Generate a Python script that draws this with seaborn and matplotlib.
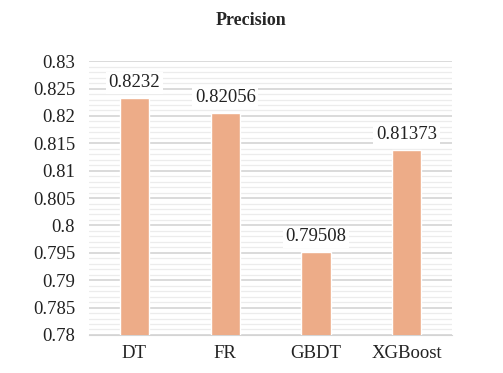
import matplotlib
matplotlib.use("Agg")
import matplotlib.pyplot as plt
import seaborn as sns
import pandas as pd
from matplotlib.ticker import MultipleLocator

models = ["DT", "FR", "GBDT", "XGBoost"]
precision = [0.8232, 0.82056, 0.79508, 0.81373]
value_labels = ["0.8232", "0.82056", "0.79508", "0.81373"]

sns.set_style("white")
plt.rcParams["font.family"] = ["Liberation Serif", "DejaVu Serif"]

df = pd.DataFrame({"model": models, "precision": precision})

fig = plt.figure(figsize=(5.03, 3.73), dpi=100)
ax = fig.add_axes([0.177, 0.102, 0.722, 0.734])

sns.barplot(data=df, x="model", y="precision", color="#EDAC88", saturation=1,
            width=0.32, ax=ax, zorder=3)

ax.set_ylim(0.78, 0.83)
ax.yaxis.set_major_locator(MultipleLocator(0.005))
ax.yaxis.set_minor_locator(MultipleLocator(0.001))
ax.yaxis.set_major_formatter(matplotlib.ticker.FuncFormatter(lambda v, p: f"{v:g}"))
ax.grid(which="major", axis="y", color="#d4d4d4", linewidth=1.2, zorder=0)
ax.grid(which="minor", axis="y", color="#ececec", linewidth=0.9, zorder=0)
ax.set_axisbelow(True)
for s in ["top", "right", "left"]:
    ax.spines[s].set_visible(False)
ax.spines["bottom"].set_color("#d4d4d4")
ax.tick_params(axis="both", which="both", length=0, labelsize=13.5, colors="#222222")
ax.tick_params(axis="x", pad=7)
ax.tick_params(axis="y", pad=10)
ax.set_xlabel("")
ax.set_ylabel("")

for i, (v, t) in enumerate(zip(precision, value_labels)):
    ax.annotate(t, (i, v), xytext=(0, 5), textcoords="offset points",
                ha="center", va="bottom", fontsize=13.5, color="#222222",
                bbox=dict(boxstyle="square,pad=0.15", fc="white", ec="none"),
                zorder=5)

fig.text(0.5, 0.946, "Precision", ha="center", va="center", fontsize=13, fontweight="bold")

fig.savefig("out.png", dpi=100)
